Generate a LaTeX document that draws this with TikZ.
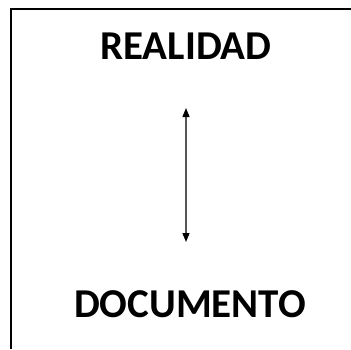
\documentclass[tikz,border=0pt]{standalone}
\usepackage{fontspec}
\setmainfont{Carlito}
\usetikzlibrary{arrows.meta, positioning}
\definecolor{linegray}{RGB}{85, 85, 85}

\begin{document}
\begin{tikzpicture}[x=1pt, y=-1pt,
  label/.style={font=\fontsize{41}{49}\selectfont\bfseries, inner sep=0pt, anchor=base}]
  % marco de la imagen
  \useasboundingbox (0, 0) rectangle (351, 349);

  % borde superior e izquierdo
  \draw[line width=1.8pt] (351, 9) -- (11, 9) -- (11, 349);

  % textos
  \node[label] (realidad) at (186, 59) {REALIDAD};
  \node[label] (documento) at (190, 317) {DOCUMENTO};

  % flecha doble
  \coordinate (arriba) at (186, 108);
  \coordinate (abajo) at (186, 242);
  \draw[linegray, line width=1.3pt, {Triangle[black, length=9pt, width=7pt]}-{Triangle[black, length=9pt, width=7pt]}] (arriba) -- (abajo);
\end{tikzpicture}
\end{document}
